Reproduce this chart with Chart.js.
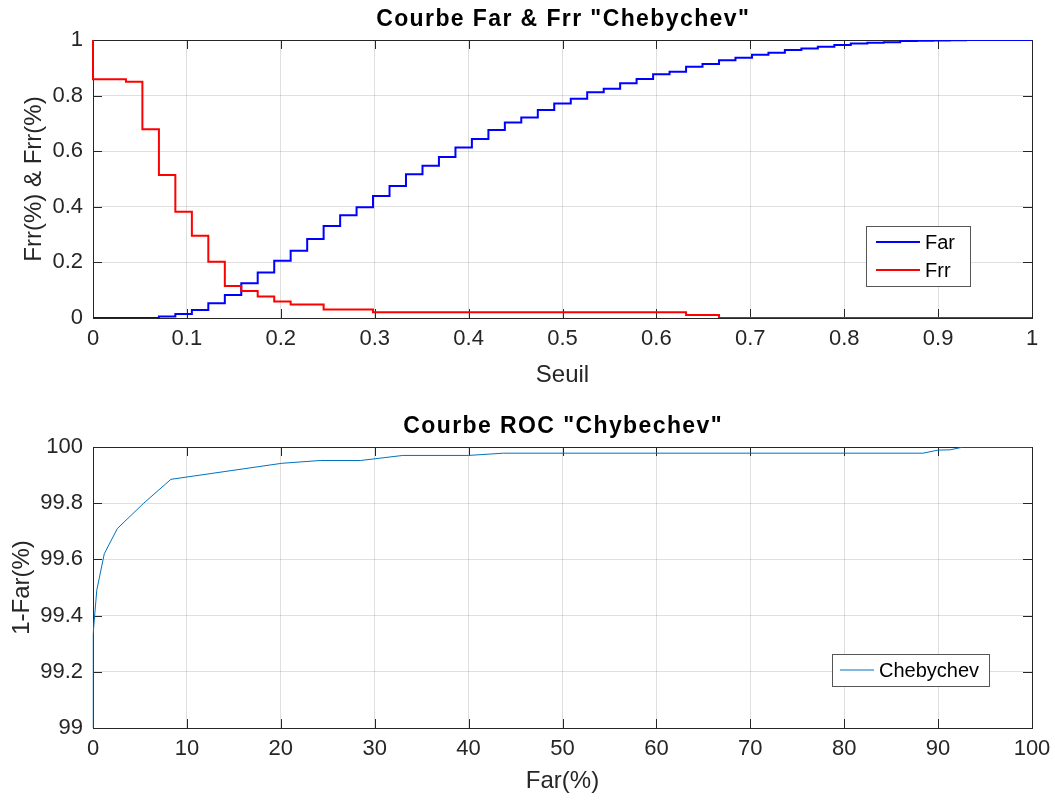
<!DOCTYPE html>
<html>
<head>
<meta charset="utf-8">
<title>Courbes Far / Frr et ROC</title>
<script src="https://cdn.jsdelivr.net/npm/chart.js@4.4.1/dist/chart.umd.min.js"></script>
<style>
  html, body { margin: 0; padding: 0; background: #fff; }
  canvas { display: block; }
</style>
</head>
<body>
<canvas id="farFrr" width="1055" height="400"></canvas>
<canvas id="roc" width="1055" height="400"></canvas>
<script>
// seuils (le premier est doublé pour la chute verticale de Frr en 0)
const seuil = [0, 0, 0.0175, 0.0351, 0.0526, 0.0702, 0.0877, 0.1053, 0.1228, 0.1404,
  0.1579, 0.1754, 0.1930, 0.2105, 0.2281, 0.2456, 0.2632, 0.2807, 0.2982, 0.3158,
  0.3333, 0.3509, 0.3684, 0.3860, 0.4035, 0.4211, 0.4386, 0.4561, 0.4737, 0.4912,
  0.5088, 0.5263, 0.5439, 0.5614, 0.5789, 0.5965, 0.6140, 0.6316, 0.6491, 0.6667,
  0.6842, 0.7018, 0.7193, 0.7368, 0.7544, 0.7719, 0.7895, 0.8070, 0.8246, 0.8421,
  0.8596, 0.8772, 0.8947, 0.9123, 0.9298, 0.9474, 0.9649, 0.9825, 1];

const far = [0, 0, 0, 0, 0, 0.005, 0.014, 0.029, 0.053, 0.083,
  0.125, 0.164, 0.206, 0.242, 0.284, 0.331, 0.370, 0.398, 0.439, 0.475,
  0.517, 0.548, 0.579, 0.613, 0.644, 0.676, 0.703, 0.721, 0.748, 0.772,
  0.789, 0.812, 0.825, 0.844, 0.860, 0.877, 0.886, 0.904, 0.914, 0.927,
  0.936, 0.947, 0.954, 0.964, 0.969, 0.976, 0.982, 0.987, 0.990, 0.992,
  0.996, 0.997, 0.998, 0.999, 1, 1, 1, 1, 1];

const frr = [1, 0.859, 0.859, 0.850, 0.679, 0.514, 0.382, 0.296, 0.2025, 0.115,
  0.097, 0.077, 0.059, 0.049, 0.049, 0.031, 0.031, 0.031, 0.0205, 0.0205,
  0.0205, 0.0205, 0.0205, 0.0205, 0.0205, 0.0205, 0.0205, 0.0205, 0.0205, 0.0205,
  0.0205, 0.0205, 0.0205, 0.0205, 0.0205, 0.0205, 0.0205, 0.0108, 0.0108, 0,
  0, 0, 0, 0, 0, 0, 0, 0, 0, 0,
  0, 0, 0, 0, 0, 0, 0, 0, 0];

// courbe ROC : Far(%) en x, 1-Far(%) en y
const rocFar = [0, 0, 0.4, 1.2, 2.6, 5.4, 8.3, 20.1, 24.2, 28.5, 33.0, 40.0, 43.7, 88.4, 90.0, 91.3, 92.7, 100];
const rocTar = [99.0, 99.33, 99.49, 99.62, 99.71, 99.80, 99.885, 99.942, 99.952, 99.952,
  99.970, 99.970, 99.978, 99.978, 99.989, 99.990, 100, 100];

const seuilTicks = [0, 0.1, 0.2, 0.3, 0.4, 0.5, 0.6, 0.7, 0.8, 0.9, 1];
const tauxTicks = [0, 0.2, 0.4, 0.6, 0.8, 1];
const rocXTicks = [0, 10, 20, 30, 40, 50, 60, 70, 80, 90, 100];
const rocYTicks = [99, 99.2, 99.4, 99.6, 99.8, 100];

const FONT = "'Liberation Sans', Arial, Helvetica, sans-serif";
const AXIS_COLOR = '#262626';
const GRID_COLOR = 'rgba(38,38,38,0.15)';

// cadre fermé + graduations vers l'intérieur (sous les courbes), titre et légende par-dessus
const frame = {
  id: 'frame',
  beforeDatasetsDraw(chart) {
    const { ctx, chartArea: a, scales } = chart;
    const len = 9;
    ctx.save();
    ctx.strokeStyle = AXIS_COLOR;
    ctx.lineWidth = 1;
    ctx.beginPath();
    scales.x.ticks.forEach(t => {
      const px = Math.round(scales.x.getPixelForValue(t.value)) + 0.5;
      ctx.moveTo(px, a.bottom); ctx.lineTo(px, a.bottom - len);
      ctx.moveTo(px, a.top); ctx.lineTo(px, a.top + len);
    });
    scales.y.ticks.forEach(t => {
      const py = Math.round(scales.y.getPixelForValue(t.value)) + 0.5;
      ctx.moveTo(a.left, py); ctx.lineTo(a.left + len, py);
      ctx.moveTo(a.right, py); ctx.lineTo(a.right - len, py);
    });
    ctx.stroke();
    ctx.strokeRect(Math.round(a.left) + 0.5, Math.round(a.top) + 0.5,
      Math.round(a.right - a.left), Math.round(a.bottom - a.top));
    ctx.restore();
  },
  afterDraw(chart, args, opts) {
    const { ctx, chartArea: a } = chart;
    ctx.save();

    // titre
    ctx.font = 'bold 23px ' + FONT;
    ctx.letterSpacing = '1.4px';
    ctx.fillStyle = '#000';
    ctx.textAlign = 'center';
    ctx.textBaseline = 'alphabetic';
    ctx.fillText(opts.title, (a.left + a.right) / 2 + 0.7, a.top - 14);
    ctx.letterSpacing = '0px';
    ctx.textAlign = 'left';

    // légende
    const lg = opts.legend;
    ctx.fillStyle = '#fff';
    ctx.fillRect(lg.x, lg.y, lg.w, lg.h);
    ctx.strokeStyle = '#555';
    ctx.lineWidth = 1;
    ctx.strokeRect(lg.x + 0.5, lg.y + 0.5, lg.w, lg.h);
    ctx.font = lg.size + 'px ' + FONT;
    ctx.textBaseline = 'middle';
    chart.data.datasets.forEach((ds, i) => {
      const y = lg.y + lg.first + i * lg.gap;
      ctx.strokeStyle = ds.borderColor;
      ctx.lineWidth = ds.borderWidth;
      ctx.beginPath();
      ctx.moveTo(lg.x + lg.lineX0, y);
      ctx.lineTo(lg.x + lg.lineX1, y);
      ctx.stroke();
      ctx.fillStyle = '#000';
      ctx.fillText(ds.label, lg.x + lg.textX, y + 1);
    });
    ctx.restore();
  }
};

// min/max laissés libres sur l'axe x : bornes prises sur les données,
// sinon le premier point (doublon en x = 0) n'est pas tracé
function axisOpts(ticksArr, min, max, title, titlePad, fitSize, horizontal) {
  const opts = {
    type: 'linear',
    bounds: 'data',
    afterBuildTicks: s => { s.ticks = ticksArr.map(v => ({ value: v })); },
    afterFit: s => {
      if (horizontal) {
        s.height = fitSize;
        // la marge droite vient de layout.padding, pas de la largeur de "100"
        s.paddingLeft = 0;
        s.paddingRight = 0;
      } else {
        s.width = fitSize;
      }
    },
    grid: { color: GRID_COLOR, drawTicks: false },
    border: { display: false },
    ticks: {
      color: AXIS_COLOR,
      font: { family: FONT, size: 22 },
      padding: horizontal ? 8 : 10,
      maxRotation: 0,
      autoSkip: false,
      callback: v => String(v)
    },
    title: {
      display: true,
      text: title,
      color: AXIS_COLOR,
      font: { family: FONT, size: 24 },
      padding: titlePad
    }
  };
  if (!horizontal) { opts.min = min; opts.max = max; }
  return opts;
}

new Chart(document.getElementById('farFrr'), {
  type: 'line',
  data: {
    datasets: [
      { label: 'Far', data: seuil.map((s, i) => ({ x: s, y: far[i] })),
        borderColor: '#0000ff', borderWidth: 2, stepped: 'before', order: 1 },
      { label: 'Frr', data: seuil.map((s, i) => ({ x: s, y: frr[i] })),
        borderColor: '#ff0000', borderWidth: 2, stepped: 'before', order: 0 }
    ]
  },
  options: {
    responsive: false,
    animation: false,
    events: [],
    elements: { point: { radius: 0 } },
    layout: { padding: { left: 0, right: 23, top: 40, bottom: 0 } },
    scales: {
      x: axisOpts(seuilTicks, 0, 1, 'Seuil', { top: 0, bottom: 10 }, 82, true),
      y: axisOpts(tauxTicks, 0, 1, 'Frr(%) & Frr(%)', { top: 20, bottom: 0 }, 93, false)
    },
    plugins: {
      legend: { display: false },
      tooltip: { enabled: false },
      title: { display: false },
      frame: {
        title: 'Courbe Far & Frr "Chebychev"',
        legend: { x: 866, y: 226, w: 104, h: 60, size: 20, first: 16, gap: 28,
          lineX0: 10, lineX1: 54, textX: 59 }
      }
    }
  },
  plugins: [frame]
});

new Chart(document.getElementById('roc'), {
  type: 'line',
  data: {
    datasets: [
      { label: 'Chebychev', data: rocFar.map((f, i) => ({ x: f, y: rocTar[i] })),
        borderColor: '#0072bd', borderWidth: 1 }
    ]
  },
  options: {
    responsive: false,
    animation: false,
    events: [],
    elements: { point: { radius: 0 } },
    layout: { padding: { left: 0, right: 23, top: 47, bottom: 0 } },
    scales: {
      x: axisOpts(rocXTicks, 0, 100, 'Far(%)', { top: 0, bottom: 4 }, 72, true),
      y: axisOpts(rocYTicks, 99, 100, '1-Far(%)', { top: 8, bottom: 0 }, 93, false)
    },
    plugins: {
      legend: { display: false },
      tooltip: { enabled: false },
      title: { display: false },
      frame: {
        title: 'Courbe ROC "Chybechev"',
        legend: { x: 832, y: 254, w: 157, h: 32, size: 20, first: 16, gap: 0,
          lineX0: 8, lineX1: 42, textX: 47 }
      }
    }
  },
  plugins: [frame]
});
</script>
</body>
</html>
